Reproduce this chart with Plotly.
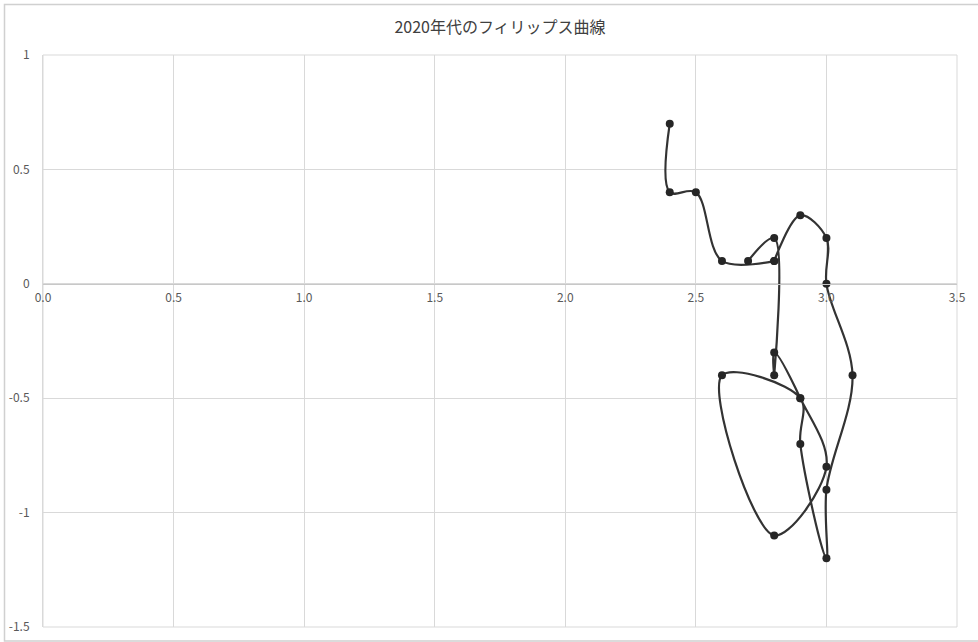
import plotly.graph_objects as go

# Monthly unemployment rate (%) and CPI change (%), Jan 2020 - Oct 2021
unemployment = [2.4, 2.4, 2.5, 2.6, 2.8, 2.8, 2.9, 3.0, 3.0, 3.1, 3.0, 3.0,
                2.9, 2.9, 2.6, 2.8, 3.0, 2.9, 2.8, 2.8, 2.8, 2.7]
inflation = [0.7, 0.4, 0.4, 0.1, 0.1, 0.1, 0.3, 0.2, 0.0, -0.4, -0.9, -1.2,
             -0.7, -0.5, -0.4, -1.1, -0.8, -0.5, -0.3, -0.4, 0.2, 0.1]

x_ticks = [0.0, 0.5, 1.0, 1.5, 2.0, 2.5, 3.0, 3.5]
x_tick_text = ["0.0", "0.5", "1.0", "1.5", "2.0", "2.5", "3.0", "3.5"]
y_ticks = [1, 0.5, 0, -0.5, -1, -1.5]
y_tick_text = ["1", "0.5", "0", "-0.5", "-1", "-1.5"]

title_text = "2020年代のフィリップス曲線"

W, H = 978, 642
ml, mr, mt, mb = 43, 21, 55, 15
pw, ph = W - ml - mr, H - mt - mb

fig = go.Figure()
fig.add_trace(go.Scatter(
    x=unemployment, y=inflation,
    mode="lines+markers",
    line=dict(color="#333333", width=2.2, shape="spline", smoothing=1.0),
    marker=dict(color="#262626", size=8, symbol="circle"),
    hoverinfo="x+y",
    showlegend=False,
))

font_family = "Noto Sans CJK JP, Noto Sans, sans-serif"

# the horizontal axis crosses the vertical one at y = 0
y_min, y_max = -1.5, 1.0
cross = (0 - y_min) / (y_max - y_min)

fig.update_layout(
    width=W, height=H,
    margin=dict(l=ml, r=mr, t=mt, b=mb, autoexpand=False),
    paper_bgcolor="white", plot_bgcolor="white",
    title=dict(text=title_text, x=0.5, xref="paper", y=1 - 27 / H, yanchor="middle",
               font=dict(family=font_family, size=16, color="#404040")),
    font=dict(family=font_family, size=12, color="#595959"),
    xaxis=dict(
        range=[0, 3.5], tickvals=x_ticks, ticktext=x_tick_text,
        showgrid=True, gridcolor="#d9d9d9", gridwidth=1,
        zeroline=False, showline=True, linecolor="#c8c8c8", linewidth=1,
        anchor="free", position=cross, automargin=False,
        ticks="", ticklabelstandoff=3, tickfont=dict(size=12, color="#595959"),
    ),
    yaxis=dict(
        range=[y_min, y_max], tickvals=y_ticks, ticktext=y_tick_text,
        showgrid=True, gridcolor="#d9d9d9", gridwidth=1,
        zeroline=False, showline=True, linecolor="#d9d9d9", linewidth=1,
        ticks="", ticklabelstandoff=10, tickfont=dict(size=12, color="#595959"),
        domain=[0, 1], automargin=False,
    ),
    shapes=[
        # plot area frame
        dict(type="rect", xref="paper", yref="paper", x0=0, x1=1, y0=0, y1=1,
             line=dict(color="#d9d9d9", width=1), layer="below"),
        # chart area border
        dict(type="rect", xref="paper", yref="paper",
             x0=(4.5 - ml) / pw, x1=(W + 5 - ml) / pw,
             y0=(H - mb - 641) / ph, y1=(H - mb - 4.5) / ph,
             line=dict(color="#d0d0d0", width=1.5), layer="below"),
    ],
)

fig.write_html("out.html")
